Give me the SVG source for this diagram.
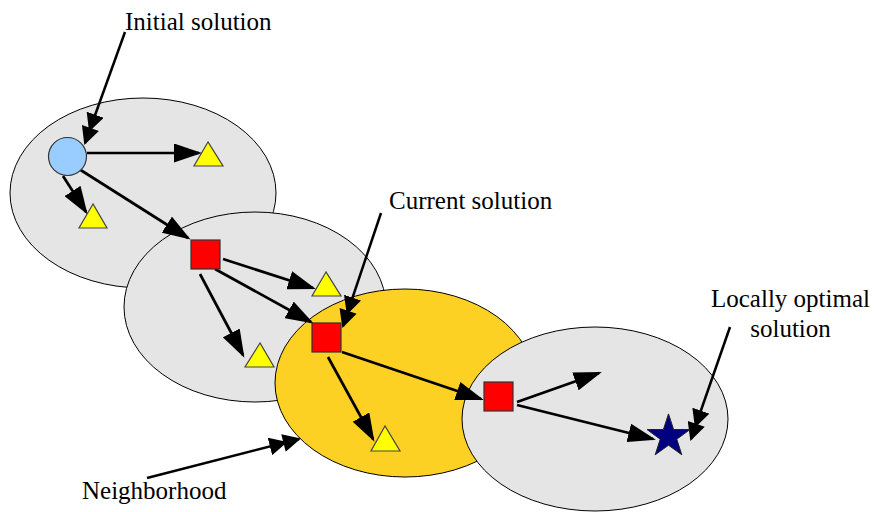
<svg xmlns="http://www.w3.org/2000/svg" width="874" height="512" viewBox="0 0 874 512">
<style>
.hood{fill:#e5e5e5;stroke:#000;stroke-width:1}
.cur{fill:#fdd123;stroke:#000;stroke-width:1}
.sq{fill:#ff0000;stroke:#333;stroke-width:1.2}
.tri{fill:#ffff00;stroke:#444;stroke-width:1.2}
.arr{stroke:#000;stroke-width:2.7;fill:none;marker-end:url(#ah)}
.lab{stroke:#000;stroke-width:2.5;fill:none;marker-end:url(#ah2)}
</style>
<defs>
<marker id="ah" viewBox="0 0 28 19" refX="25" refY="9.5" markerWidth="28" markerHeight="19" markerUnits="userSpaceOnUse" orient="auto">
<path d="M0,0 L28,9.5 L0,19 z" fill="#000"/>
</marker>
<marker id="ah2" viewBox="0 0 32 18" refX="30" refY="9" markerWidth="32" markerHeight="18" markerUnits="userSpaceOnUse" orient="auto">
<path d="M0,0 L18,9 L0,18 z M14,0 L32,9 L14,18 z" fill="#000"/>
</marker>
</defs>
<g id="neighborhood1"><ellipse class="hood" cx="143" cy="193" rx="133" ry="95"/></g>
<g id="neighborhood2"><ellipse class="hood" cx="255" cy="307" rx="131" ry="95"/></g>
<g id="neighborhood3"><ellipse class="cur" cx="405" cy="383" rx="130" ry="94"/></g>
<g id="neighborhood4"><ellipse class="hood" cx="595" cy="419" rx="133" ry="92"/></g>
<g id="connectors">
<line class="arr" x1="87" y1="153" x2="199" y2="153"/>
<line class="arr" x1="63" y1="176" x2="86" y2="212"/>
<line class="arr" x1="79" y1="169" x2="188" y2="238"/>
<line class="arr" x1="223" y1="259" x2="313" y2="288"/>
<line class="arr" x1="215" y1="269" x2="311" y2="322"/>
<line class="arr" x1="200" y1="274" x2="243" y2="355"/>
<line class="arr" x1="342" y1="352" x2="481" y2="399"/>
<line class="arr" x1="328" y1="357" x2="373" y2="439"/>
<line class="arr" x1="517" y1="402" x2="599" y2="373"/>
<line class="arr" x1="517" y1="405" x2="653" y2="439"/>
<line class="lab" x1="125" y1="32" x2="85" y2="143"/>
<line class="lab" x1="381" y1="213" x2="343" y2="326"/>
<line class="lab" x1="730" y1="327" x2="691" y2="439"/>
<line class="lab" x1="147" y1="478" x2="299" y2="439"/>
</g>
<g id="initial"><circle cx="67.5" cy="156.5" r="19" fill="#99ccff" stroke="#333" stroke-width="1.2"/></g>
<g id="t1"><polygon class="tri" points="208,142 194,166 223,166"/></g>
<g id="t2"><polygon class="tri" points="93,204 79,228 107,228"/></g>
<g id="s1"><rect class="sq" x="191" y="240" width="29" height="29"/></g>
<g id="t3"><polygon class="tri" points="326,272 312,296 341,296"/></g>
<g id="t4"><polygon class="tri" points="260,343 245,367 274,367"/></g>
<g id="s2"><rect class="sq" x="312" y="323" width="29" height="29"/></g>
<g id="t5"><polygon class="tri" points="385,426 371,451 400,451"/></g>
<g id="s3"><rect class="sq" x="484" y="382" width="29" height="29"/></g>
<g id="star"><polygon points="668.5,413.9 673.6,429.5 690,429.5 676.8,439.2 681.8,454.8 668.5,445.2 655.2,454.8 660.2,439.2 647,429.5 663.4,429.5" fill="#000080" stroke="#222" stroke-width="1"/></g>
<g id="labels" font-family="'Liberation Serif', 'Times New Roman', serif" font-size="25" fill="#000">
<text x="125" y="30">Initial solution</text>
<text x="389" y="209">Current solution</text>
<text x="790.5" y="307" text-anchor="middle">Locally optimal</text>
<text x="790.5" y="337" text-anchor="middle">solution</text>
<text x="82" y="499">Neighborhood</text>
</g>
</svg>
